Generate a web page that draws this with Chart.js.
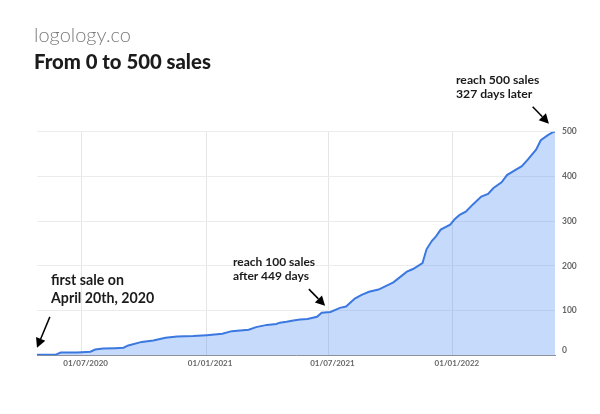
<!DOCTYPE html>
<html>
<head>
<meta charset="utf-8">
<script src="https://cdn.jsdelivr.net/npm/chart.js@4/dist/chart.umd.min.js"></script>
<style>
  body { margin: 0; background: #fff; font-family: Lato, sans-serif; color: #1b1b1b; }
  #wrap { position: relative; width: 600px; height: 414px; overflow: hidden; }
  canvas { position: absolute; left: 0; top: 0; }
  .txt { position: absolute; white-space: nowrap; font-weight: 700; }
  #brand { left: 34px; top: 22px; font-size: 20px; font-weight: 300; color: #7b7b7b; }
  #title { left: 34px; top: 49px; font-size: 20.3px; font-weight: 900; }
  #a1 { left: 51px; top: 271px; font-size: 14.2px; line-height: 17.5px; }
  #a2 { left: 233px; top: 255px; font-size: 12px; line-height: 14px; }
  #a3 { left: 456px; top: 73px; font-size: 12.2px; line-height: 14px; }
</style>
</head>
<body>
<div id="wrap">
  <canvas id="chart" width="600" height="414"></canvas>
  <div class="txt" id="brand">logology.co</div>
  <div class="txt" id="title">From 0 to 500 sales</div>
  <div class="txt" id="a1">first sale on<br>April 20th, 2020</div>
  <div class="txt" id="a2">reach 100 sales<br>after 449 days</div>
  <div class="txt" id="a3">reach 500 sales<br>327 days later</div>
</div>
<script>
// x = days since 01/07/2020
var days = [-66, -39, -31, -7, 13, 20, 32, 50, 62, 69, 89, 106, 124, 141, 165, 185, 208, 222, 247, 258,
  274, 288, 293, 303, 313, 323, 334, 348, 355, 368, 382, 391, 404, 414, 425, 439, 461, 481, 490, 504,
  510, 518, 524, 531, 545, 552, 559, 568, 579, 591, 601, 609, 621, 629, 641, 651, 660, 672, 679, 690, 697, 700];
var sales = [1, 1, 6, 6, 8, 13, 15, 16, 17, 22, 30, 33, 39, 42, 43, 45, 48, 54, 57, 63,
  68, 70, 73, 75, 78, 80, 81, 86, 95, 97, 106, 109, 127, 135, 142, 147, 163, 187, 193, 206,
  237, 256, 266, 281, 292, 305, 314, 321, 338, 355, 361, 374, 387, 403, 414, 423, 438, 460, 481, 493, 499, 500];
var tickDays = [0, 184, 365, 549];
var tickLabels = ["01/07/2020", "01/01/2021", "01/07/2021", "01/01/2022"];
// arrows: tail -> tip, in axis units
var arrows = [
  { x0: -47, y0: 86, x1: -66, y1: 17 },
  { x0: 336, y0: 148, x1: 360, y1: 111 },
  { x0: 667, y0: 556, x1: 691, y1: 518 }
];

var arrowPlugin = {
  id: "arrows",
  afterDraw: function (chart) {
    var ctx = chart.ctx, sx = chart.scales.x, sy = chart.scales.y;
    arrows.forEach(function (a) {
      var x0 = sx.getPixelForValue(a.x0), y0 = sy.getPixelForValue(a.y0);
      var x1 = sx.getPixelForValue(a.x1), y1 = sy.getPixelForValue(a.y1);
      var ang = Math.atan2(y1 - y0, x1 - x0), size = 9.5;
      var bx = x1 - Math.cos(ang) * size, by = y1 - Math.sin(ang) * size;
      ctx.save();
      ctx.strokeStyle = "#000";
      ctx.fillStyle = "#000";
      ctx.lineWidth = 1.5;
      ctx.beginPath();
      ctx.moveTo(x0, y0);
      ctx.lineTo(bx, by);
      ctx.stroke();
      ctx.beginPath();
      ctx.moveTo(x1, y1);
      ctx.lineTo(bx + Math.sin(ang) * 5, by - Math.cos(ang) * 5);
      ctx.lineTo(bx - Math.sin(ang) * 5, by + Math.cos(ang) * 5);
      ctx.closePath();
      ctx.fill();
      ctx.restore();
    });
  }
};

new Chart(document.getElementById("chart"), {
  type: "line",
  data: {
    datasets: [{
      data: days.map(function (d, i) { return { x: d, y: sales[i] }; }),
      borderColor: "#3b78e0",
      borderWidth: 2,
      backgroundColor: "rgba(66,133,244,.3)",
      fill: "origin",
      pointRadius: 0,
      tension: 0
    }]
  },
  options: {
    responsive: false,
    animation: false,
    layout: { padding: { top: 131.7, left: 37, right: 0, bottom: 0 } },
    plugins: { legend: { display: false }, tooltip: { enabled: false } },
    scales: {
      x: {
        type: "linear",
        min: -66,
        max: 700,
        afterFit: function (s) { s.height = 58.7; },
        afterBuildTicks: function (s) { s.ticks = tickDays.map(function (v) { return { value: v }; }); },
        grid: { color: "#e6e6e6", drawTicks: false },
        border: { color: "#8d929b", width: 1 },
        ticks: {
          autoSkip: false,
          maxRotation: 0,
          padding: 3,
          labelOffset: 4,
          color: "#666",
          font: { family: "Lato", size: 8, weight: "bold" },
          callback: function (v) { return tickLabels[tickDays.indexOf(v)]; }
        }
      },
      y: {
        position: "right",
        min: 0,
        max: 500,
        afterFit: function (s) { s.width = 45; },
        grid: { color: "#ececec", drawTicks: false },
        border: { display: false },
        ticks: {
          stepSize: 100,
          padding: 7,
          color: "#666",
          font: { family: "Lato", size: 8.5, weight: "bold" },
          // the 0 label sits a little above the baseline
          callback: function (v) { return v === 0 ? ["0", ""] : String(v); }
        }
      }
    }
  },
  plugins: [arrowPlugin]
});
</script>
</body>
</html>
